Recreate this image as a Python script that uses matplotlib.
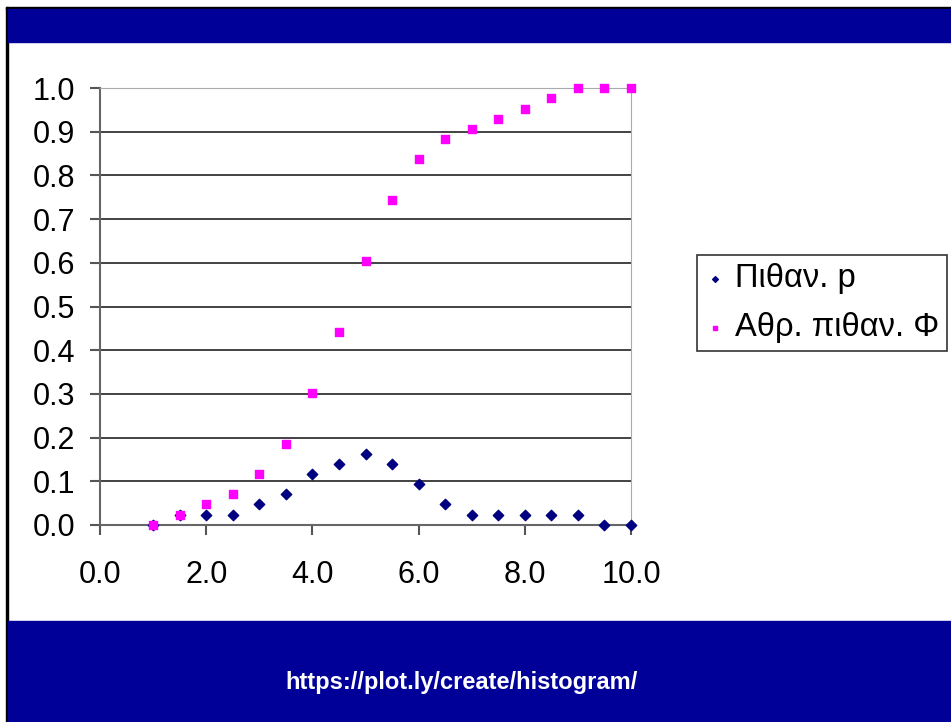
import matplotlib
matplotlib.use("Agg")
import matplotlib.pyplot as plt
from matplotlib.patches import Rectangle

# ---------------------------------
# data
# ---------------------------------
x_vals = [1.0, 1.5, 2.0, 2.5, 3.0, 3.5, 4.0, 4.5, 5.0, 5.5,
          6.0, 6.5, 7.0, 7.5, 8.0, 8.5, 9.0, 9.5, 10.0]
p_vals = [0.0, 0.023, 0.023, 0.023, 0.047, 0.070, 0.116, 0.140, 0.163, 0.140,
          0.093, 0.047, 0.023, 0.023, 0.023, 0.023, 0.023, 0.0, 0.0]
phi_vals = [0.0, 0.023, 0.047, 0.070, 0.116, 0.186, 0.302, 0.442, 0.605, 0.744,
            0.837, 0.884, 0.907, 0.930, 0.953, 0.977, 1.0, 1.0, 1.0]

x_ticks = [0, 2, 4, 6, 8, 10]
y_ticks = [i / 10 for i in range(11)]
labels = ["Πιθαν. p", "Αθρ. πιθαν. Φ"]
url = "https://plot.ly/create/histogram/"

plt.rcParams['font.family'] = ['Liberation Sans', 'DejaVu Sans']

W, H = 951, 722
fig = plt.figure(figsize=(W / 100, H / 100), dpi=100)
navy_bar = "#000099"

# slide frame: black edge, navy bars top and bottom
fig.patches.append(Rectangle((6 / W, 0), 2 / W, 1 - 7 / H, transform=fig.transFigure,
                             color="black", zorder=0))
fig.patches.append(Rectangle((6 / W, 1 - 9 / H), 1, 2 / H, transform=fig.transFigure,
                             color="black", zorder=0))
fig.patches.append(Rectangle((8 / W, 1 - 42 / H), 1, 33 / H, transform=fig.transFigure,
                             color=navy_bar, zorder=0))
fig.patches.append(Rectangle((8 / W, 0), 1, 101 / H, transform=fig.transFigure,
                             color=navy_bar, zorder=0))

ax = fig.add_axes([100 / W, 1 - 525 / H, 531 / W, 437 / H])
ax.set_xlim(0, 10)
ax.set_ylim(0, 1)

for yv in y_ticks[1:-1]:
    ax.axhline(yv, color="#222222", lw=1.2, zorder=1)

ax.scatter(x_vals, p_vals, marker="D", s=28, color="#000080", zorder=3,
           label=labels[0], clip_on=False)
ax.scatter(x_vals, phi_vals, marker="s", s=40, color="#ff00ff", zorder=4,
           label=labels[1], clip_on=False)

ax.set_xticks(x_ticks)
ax.set_xticklabels([f"{v:.1f}" for v in x_ticks])
ax.set_yticks(y_ticks)
ax.set_yticklabels([f"{v:.1f}" for v in y_ticks])
ax.tick_params(axis="both", labelsize=22, color="#555555", width=1.5, length=7)
ax.tick_params(axis="y", pad=11)
ax.tick_params(axis="x", pad=18)

ax.spines["left"].set_color("#666666")
ax.spines["left"].set_linewidth(1.5)
ax.spines["bottom"].set_color("#666666")
ax.spines["bottom"].set_linewidth(1.5)
ax.spines["top"].set_color("#aaaaaa")
ax.spines["right"].set_color("#aaaaaa")

leg = fig.legend(loc="upper left", bbox_to_anchor=(697 / W, 1 - 255 / H),
                 fontsize=23.5, frameon=True, fancybox=False, edgecolor="black",
                 borderaxespad=0, borderpad=0.25, handlelength=0.6,
                 handletextpad=0.3, labelspacing=0.55, markerscale=0.55)
leg.get_frame().set_linewidth(1.2)

fig.text(462 / W, 1 - 682 / H, url, color="white", fontsize=17,
         fontweight="bold", ha="center", va="center")

fig.savefig("out.png", dpi=100)
